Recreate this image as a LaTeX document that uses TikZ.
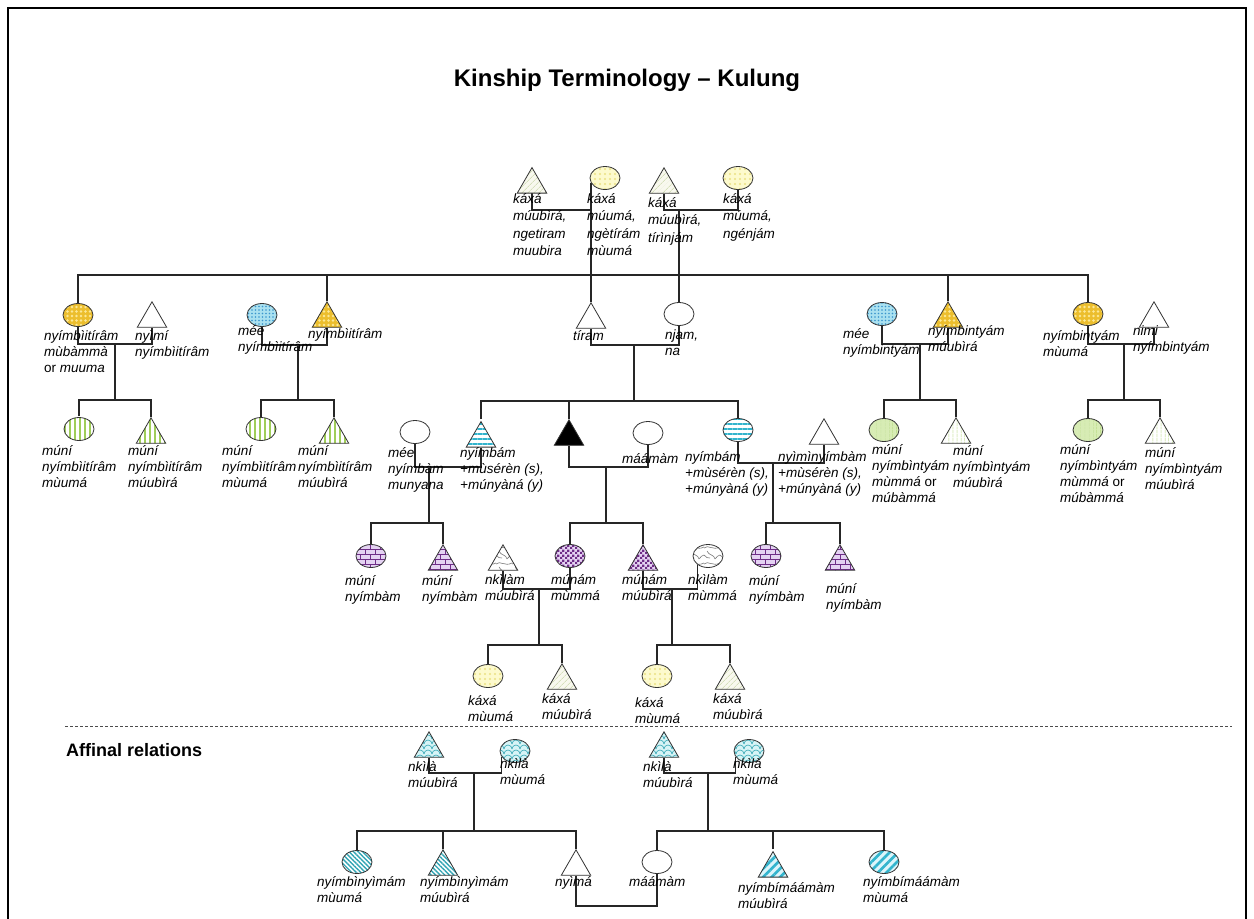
\documentclass[tikz,border=0pt]{standalone}
\usepackage{fontspec}
\setmainfont{Liberation Sans}
\usetikzlibrary{shapes.geometric, patterns, patterns.meta, backgrounds}

% --- fill textures for the kin symbols ---
\pgfdeclarepatternformonly{brickwall}{\pgfpoint{-1pt}{-1pt}}{\pgfpoint{11pt}{11pt}}{\pgfpoint{10pt}{10pt}}{%
  \pgfsetlinewidth{0.7pt}%
  \pgfpathmoveto{\pgfpoint{-1pt}{0pt}}\pgfpathlineto{\pgfpoint{11pt}{0pt}}%
  \pgfpathmoveto{\pgfpoint{-1pt}{5pt}}\pgfpathlineto{\pgfpoint{11pt}{5pt}}%
  \pgfpathmoveto{\pgfpoint{0pt}{0pt}}\pgfpathlineto{\pgfpoint{0pt}{5pt}}%
  \pgfpathmoveto{\pgfpoint{5pt}{5pt}}\pgfpathlineto{\pgfpoint{5pt}{10pt}}%
  \pgfusepath{stroke}}
\pgfdeclarepatternformonly{finechecker}{\pgfpointorigin}{\pgfpoint{5pt}{5pt}}{\pgfpoint{5pt}{5pt}}{%
  \pgfpathrectangle{\pgfpointorigin}{\pgfpoint{2.5pt}{2.5pt}}%
  \pgfpathrectangle{\pgfpoint{2.5pt}{2.5pt}}{\pgfpoint{2.5pt}{2.5pt}}%
  \pgfusepath{fill}}
\pgfdeclarepatternformonly{marbled}{\pgfpoint{-1pt}{-1pt}}{\pgfpoint{17pt}{17pt}}{\pgfpoint{16pt}{16pt}}{%
  \pgfsetlinewidth{0.6pt}%
  \pgfpathmoveto{\pgfpoint{0pt}{3pt}}\pgfpathcurveto{\pgfpoint{4pt}{7pt}}{\pgfpoint{9pt}{0pt}}{\pgfpoint{16pt}{4pt}}%
  \pgfpathmoveto{\pgfpoint{3pt}{16pt}}\pgfpathcurveto{\pgfpoint{5pt}{11pt}}{\pgfpoint{10pt}{13pt}}{\pgfpoint{11pt}{8pt}}%
  \pgfpathmoveto{\pgfpoint{11pt}{8pt}}\pgfpathcurveto{\pgfpoint{13pt}{10pt}}{\pgfpoint{14pt}{12pt}}{\pgfpoint{16pt}{12pt}}%
  \pgfpathmoveto{\pgfpoint{0pt}{12pt}}\pgfpathcurveto{\pgfpoint{2pt}{10pt}}{\pgfpoint{4pt}{8pt}}{\pgfpoint{6pt}{9pt}}%
  \pgfusepath{stroke}}
\pgfdeclarepatternformonly{scallops}{\pgfpoint{-1pt}{-1pt}}{\pgfpoint{9pt}{6pt}}{\pgfpoint{8pt}{5pt}}{%
  \pgfsetlinewidth{0.6pt}%
  \pgfpathmoveto{\pgfpoint{0pt}{0pt}}\pgfpatharc{180}{0}{4pt}%
  \pgfusepath{stroke}}

% --- colours ---
\definecolor{gpTriBg}{RGB}{248,248,238}
\definecolor{gpTriFg}{RGB}{195,210,160}
\definecolor{gpEllBg}{RGB}{253,250,205}
\definecolor{gpEllFg}{RGB}{235,225,130}
\definecolor{goldBg}{RGB}{236,190,45}
\definecolor{goldFg}{RGB}{252,232,150}
\definecolor{skyBg}{RGB}{170,225,240}
\definecolor{skyFg}{RGB}{60,150,205}
\definecolor{leafFg}{RGB}{160,205,90}
\definecolor{leafBg}{RGB}{215,236,180}
\definecolor{aquaFg}{RGB}{50,180,205}
\definecolor{lilacBg}{RGB}{228,210,242}
\definecolor{plumFg}{RGB}{110,45,135}
\definecolor{greyFg}{RGB}{120,120,120}
\definecolor{mintBg}{RGB}{215,244,246}
\definecolor{tealFg}{RGB}{50,165,180}
\definecolor{paleAqua}{RGB}{220,245,250}

\newcommand{\kin}[1]{\begin{tabular}[t]{@{}l@{}}#1\end{tabular}}

\begin{document}
\begin{tikzpicture}[x=1pt, y=-1pt,
  shp/.style={draw=black!80, line width=0.8pt, inner sep=0pt},
  tri/.style={shp, regular polygon, regular polygon sides=3, minimum size=34pt, anchor=north},
  ell/.style={shp, ellipse, minimum width=30pt, minimum height=23pt},
  blank/.style={fill=white},
  gpt/.style={preaction={fill=gpTriBg}, pattern={Lines[angle=45,distance=4pt,line width=0.6pt]}, pattern color=gpTriFg},
  gpe/.style={preaction={fill=gpEllBg}, pattern={Dots[distance=5pt,radius=1.2pt]}, pattern color=gpEllFg},
  gold/.style={preaction={fill=goldBg}, pattern={Dots[distance=4.5pt,radius=1.4pt]}, pattern color=goldFg},
  sky/.style={preaction={fill=skyBg}, pattern={Dots[distance=3.5pt,radius=0.9pt]}, pattern color=skyFg},
  leaf/.style={preaction={fill=white}, pattern={Lines[angle=90,distance=5pt,line width=2.5pt]}, pattern color=leafFg},
  leafpale/.style={preaction={fill=leafBg}, pattern={Lines[angle=90,distance=4pt,line width=0.6pt]}, pattern color=leafFg},
  leafthin/.style={preaction={fill=white}, pattern={Lines[angle=90,distance=4pt,line width=0.8pt]}, pattern color=leafFg},
  aqua/.style={preaction={fill=white}, pattern={Lines[angle=0,distance=5pt,line width=2.6pt]}, pattern color=aquaFg},
  brick/.style={preaction={fill=lilacBg}, pattern=brickwall, pattern color=plumFg},
  check/.style={preaction={fill=lilacBg}, pattern=finechecker, pattern color=plumFg},
  marble/.style={preaction={fill=white}, pattern=marbled, pattern color=greyFg},
  scaly/.style={preaction={fill=mintBg}, pattern=scallops, pattern color=tealFg},
  densediag/.style={preaction={fill=white}, pattern={Lines[angle=-45,distance=3.2pt,line width=1.4pt]}, pattern color=tealFg},
  widediag/.style={preaction={fill=paleAqua}, pattern={Lines[angle=45,distance=6pt,line width=2.6pt]}, pattern color=aquaFg},
  conn/.style={draw=black!85, line width=1.2pt},
  lab/.style={font=\fontsize{13.5}{16}\selectfont\itshape, inner sep=0pt, anchor=base west},
  toplab/.style={lab, font=\fontsize{13.5}{17.5}\selectfont\itshape},
  heading/.style={font=\fontsize{24}{28}\selectfont\bfseries, inner sep=0pt, anchor=base},
  sect/.style={font=\fontsize{18}{22}\selectfont\bfseries, inner sep=0pt, anchor=base west}]

\useasboundingbox (0,0) rectangle (1254,919);
\draw[line width=1.5pt] (8,8) rectangle (1246,960);

\node[heading] (ttl) at (627,86) {Kinship Terminology – Kulung};

% ---------- symbols ----------
% grandparents
\node[tri,gpt] (tA) at (532,167) {};
\node[ell,gpe] (eA) at (605,178) {};
\node[tri,gpt] (tB) at (664,167) {};
\node[ell,gpe] (eB) at (738,178) {};
% parents' generation
\node[ell,gold] (p1) at (78,315) {};
\node[tri,blank] (p2) at (152,301) {};
\node[ell,sky] (p3) at (262,315) {};
\node[tri,gold] (p4) at (327,301) {};
\node[tri,blank] (f) at (591,302) {};
\node[ell,blank] (m) at (679,314) {};
\node[ell,sky] (p5) at (882,314) {};
\node[tri,gold] (p6) at (948,301) {};
\node[ell,gold] (p7) at (1088,314) {};
\node[tri,blank] (p8) at (1154,301) {};
% ego's generation
\node[ell,leaf] (c1) at (79,429) {};
\node[tri,leaf] (c2) at (151,417) {};
\node[ell,leaf] (c3) at (261,429) {};
\node[tri,leaf] (c4) at (334,417) {};
\node[ell,blank] (w1) at (415,432) {};
\node[tri,aqua] (s1) at (481,419) {};
\node[tri,fill=black] (ego) at (569,419) {};
\node[ell,blank] (w2) at (648,433) {};
\node[ell,aqua] (s2) at (738,430) {};
\node[tri,blank] (h2) at (824,418) {};
\node[ell,leafpale] (c5) at (884,430) {};
\node[tri,leafthin] (c6) at (956,417) {};
\node[ell,leafpale] (c7) at (1088,430) {};
\node[tri,leafthin] (c8) at (1160,417) {};
% children's generation
\node[ell,brick] (g1) at (371,556) {};
\node[tri,brick] (g2) at (443,544) {};
\node[tri,marble] (n1) at (503,544) {};
\node[ell,check] (g3) at (570,556) {};
\node[tri,check] (g4) at (643,544) {};
\node[ell,marble] (n2) at (708,556) {};
\node[ell,brick] (g5) at (766,556) {};
\node[tri,brick] (g6) at (840,544) {};
% grandchildren
\node[ell,gpe] (k1) at (488,676) {};
\node[tri,gpt] (k2) at (562,663) {};
\node[ell,gpe] (k3) at (657,676) {};
\node[tri,gpt] (k4) at (730,663) {};
% affinal relations
\node[tri,scaly] (a1) at (429,731) {};
\node[ell,scaly] (a2) at (515,751) {};
\node[tri,scaly] (a3) at (664,731) {};
\node[ell,scaly] (a4) at (749,751) {};
\node[ell,densediag] (b1) at (357,862) {};
\node[tri,densediag] (b2) at (443,849) {};
\node[tri,blank] (b3) at (576,849) {};
\node[ell,blank] (b4) at (657,862) {};
\node[tri,widediag] (b5) at (773,849) {};
\node[ell,widediag] (b6) at (884,862) {};

% ---------- junction points ----------
\coordinate (jA) at (591,210);
\coordinate (jB) at (679,210);
\coordinate (sA) at (591,275);
\coordinate (j1) at (115,344);  \coordinate (q1) at (115,400);
\coordinate (j3) at (298,345);  \coordinate (q3) at (298,400);
\coordinate (jP) at (634,345);  \coordinate (qC) at (634,401);
\coordinate (j5) at (920,344);  \coordinate (q5) at (920,400);
\coordinate (j7) at (1124,344); \coordinate (q7) at (1124,400);
\coordinate (jW) at (429,467);  \coordinate (qW) at (429,523);
\coordinate (jE) at (606,467);  \coordinate (qE) at (606,523);
\coordinate (jH) at (773,463);  \coordinate (qH) at (773,523);
\coordinate (jN1) at (539,589); \coordinate (qN1) at (539,645);
\coordinate (jN2) at (672,589); \coordinate (qN2) at (672,645);
\coordinate (jL) at (474,773);  \coordinate (qL) at (474,831);
\coordinate (jR) at (708,773);  \coordinate (qR) at (708,831);
\coordinate (jM) at (616,906);
\coordinate (dl1) at (65,726);  \coordinate (dl2) at (1232,726);

% ---------- connectors (behind the symbols) ----------
\begin{scope}[on background layer]
  \fill[white] (0,0) rectangle (1254,919);
  % grandparents
  \draw[conn] (tA.south) |- (jA);
  \draw[conn] (jA |- eA.200) -- (f.north);
  \draw[conn] (tB.south) |- (jB) -| (eB.south);
  \draw[conn] (jB) -- (m.north);
  % father's and mother's siblings
  \draw[conn] (p1.north) -- (p1.north |- sA) -- (p7.north |- sA) -- (p7.north);
  \draw[conn] (p4.north) -- (p4.north |- sA);
  \draw[conn] (p6.north) -- (p6.north |- sA);
  % couples of the parents' generation and their children
  \draw[conn] (p1.south) |- (j1) -| (p2.south);
  \draw[conn] (j1) -- (q1);
  \draw[conn] (c1.north) |- (q1) -| (c2.north);
  \draw[conn] (p3.south) |- (j3) -| (p4.south);
  \draw[conn] (j3) -- (q3);
  \draw[conn] (c3.north) |- (q3) -| (c4.north);
  \draw[conn] (f.south) |- (jP) -| (m.south);
  \draw[conn] (jP) -- (qC);
  \draw[conn] (s1.north) |- (qC) -| (s2.north);
  \draw[conn] (ego.north) -- (ego.north |- qC);
  \draw[conn] (p5.south) |- (j5) -| (p6.south);
  \draw[conn] (j5) -- (q5);
  \draw[conn] (c5.north) |- (q5) -| (c6.north);
  \draw[conn] (p7.south) |- (j7) -| (p8.south);
  \draw[conn] (j7) -- (q7);
  \draw[conn] (c7.north) |- (q7) -| (c8.north);
  % ego's generation couples
  \draw[conn] (w1.south) |- (jW) -| (s1.south);
  \draw[conn] (jW) -- (qW);
  \draw[conn] (g1.north) |- (qW) -| (g2.north);
  \draw[conn] (ego.south) |- (jE) -| (w2.south);
  \draw[conn] (jE) -- (qE);
  \draw[conn] (g3.north) |- (qE) -| (g4.north);
  \draw[conn] (s2.south) |- (jH) -| (h2.south);
  \draw[conn] (jH) -- (qH);
  \draw[conn] (g5.north) |- (qH) -| (g6.north);
  % children's couples
  \draw[conn] (n1.south) |- (jN1) -| (g3.south);
  \draw[conn] (jN1) -- (qN1);
  \draw[conn] (k1.north) |- (qN1) -| (k2.north);
  \draw[conn] (g4.south) |- (jN2) -| (n2.220);
  \draw[conn] (jN2) -- (qN2);
  \draw[conn] (k3.north) |- (qN2) -| (k4.north);
  % affinal
  \draw[conn] (a1.south) |- (jL) -| (a2.205);
  \draw[conn] (jL) -- (qL);
  \draw[conn] (b1.north) |- (qL) -| (b3.north);
  \draw[conn] (b2.north) -- (b2.north |- qL);
  \draw[conn] (a3.south) |- (jR) -| (a4.205);
  \draw[conn] (jR) -- (qR);
  \draw[conn] (b4.north) |- (qR) -| (b6.north);
  \draw[conn] (b5.north) -- (b5.north |- qR);
  \draw[conn] (b3.south) |- (jM) -| (b4.south);
\end{scope}

\draw[black!70, line width=0.8pt, dash pattern=on 3pt off 2pt] (dl1) -- (dl2);
\node[sect] (aff) at (66,756) {Affinal relations};

% ---------- labels ----------
\node[toplab] (lA1) at (513,203) {\kin{káxá\\múubìrá,\\ngetiram\\muubira}};
\node[toplab] (lA2) at (587,203) {\kin{káxá\\múumá,\\ngètírám\\mùumá}};
\node[toplab] (lB1) at (648,207) {\kin{káxá\\múubìrá,\\tírìnjám}};
\node[toplab] (lB2) at (723,203) {\kin{káxá\\múumá,\\ngénjám}};

\node[lab] (lp1) at (44,340) {\kin{nyímbìitírâm\\mùbàmmà\\{\upshape or} muuma}};
\node[lab] (lp2) at (135,340) {\kin{nyìmí\\nyímbìitírâm}};
\node[lab] (lp3) at (238,335) {\kin{mée\\nyímbìitírâm}};
\node[lab] (lp4) at (308,338) {nyímbìitírâm};
\node[lab] (lf) at (573,340) {tíram};
\node[lab] (lm) at (665,339) {\kin{njam,\\na}};
\node[lab] (lp5) at (843,338) {\kin{mée\\nyímbintyám}};
\node[lab] (lp6) at (928,335) {\kin{nyímbintyám\\múubìrá}};
\node[lab] (lp7) at (1043,340) {\kin{nyímbintyám\\mùumá}};
\node[lab] (lp8) at (1133,335) {\kin{nimi\\nyímbintyám}};

\node[lab] (lc1) at (42,455) {\kin{múní\\nyímbìitírâm\\mùumá}};
\node[lab] (lc2) at (128,455) {\kin{múní\\nyímbìitírâm\\múubìrá}};
\node[lab] (lc3) at (222,455) {\kin{múní\\nyímbìitírâm\\mùumá}};
\node[lab] (lc4) at (298,455) {\kin{múní\\nyímbìitírâm\\múubìrá}};
\node[lab] (lw1) at (388,457) {\kin{mée\\nyímbàm\\munyana}};
\node[lab] (ls1) at (460,457) {\kin{nyímbám\\+mùsérèn (s),\\+múnyàná (y)}};
\node[lab] (lw2) at (622,463) {máámàm};
\node[lab] (ls2) at (685,461) {\kin{nyímbám\\+mùsérèn (s),\\+múnyàná (y)}};
\node[lab] (lh2) at (778,461) {\kin{nyìmìnyímbàm\\+mùsérèn (s),\\+múnyàná (y)}};
\node[lab] (lc5) at (872,454) {\kin{múní\\nyímbìntyám\\mùmmá {\upshape or}\\múbàmmá}};
\node[lab] (lc6) at (953,455) {\kin{múní\\nyímbìntyám\\múubìrá}};
\node[lab] (lc7) at (1060,454) {\kin{múní\\nyímbìntyám\\mùmmá {\upshape or}\\múbàmmá}};
\node[lab] (lc8) at (1145,457) {\kin{múní\\nyímbìntyám\\múubìrá}};

\node[lab] (lg1) at (345,585) {\kin{múní\\nyímbàm}};
\node[lab] (lg2) at (422,585) {\kin{múní\\nyímbàm}};
\node[lab] (ln1) at (485,584) {\kin{nkìlàm\\múubìrá}};
\node[lab] (lg3) at (551,584) {\kin{múnám\\mùmmá}};
\node[lab] (lg4) at (622,584) {\kin{múnám\\múubìrá}};
\node[lab] (ln2) at (688,584) {\kin{nkìlàm\\mùmmá}};
\node[lab] (lg5) at (749,585) {\kin{múní\\nyímbàm}};
\node[lab] (lg6) at (826,593) {\kin{múní\\nyímbàm}};

\node[lab] (lk1) at (468,705) {\kin{káxá\\mùumá}};
\node[lab] (lk2) at (542,703) {\kin{káxá\\múubìrá}};
\node[lab] (lk3) at (635,707) {\kin{káxá\\mùumá}};
\node[lab] (lk4) at (713,703) {\kin{káxá\\múubìrá}};

\node[lab] (la1) at (408,771) {\kin{nkìlà\\múubìrá}};
\node[lab] (la2) at (500,768) {\kin{nkìlà\\mùumá}};
\node[lab] (la3) at (643,771) {\kin{nkìlà\\múubìrá}};
\node[lab] (la4) at (733,768) {\kin{nkìlà\\mùumá}};
\node[lab] (lb1) at (317,886) {\kin{nyímbìnyìmám\\mùumá}};
\node[lab] (lb2) at (420,886) {\kin{nyímbìnyìmám\\múubìrá}};
\node[lab] (lb3) at (555,886) {nyìmá};
\node[lab] (lb4) at (629,886) {máámàm};
\node[lab] (lb5) at (738,892) {\kin{nyímbímáámàm\\múubìrá}};
\node[lab] (lb6) at (863,886) {\kin{nyímbímáámàm\\mùumá}};
\end{tikzpicture}
\end{document}
